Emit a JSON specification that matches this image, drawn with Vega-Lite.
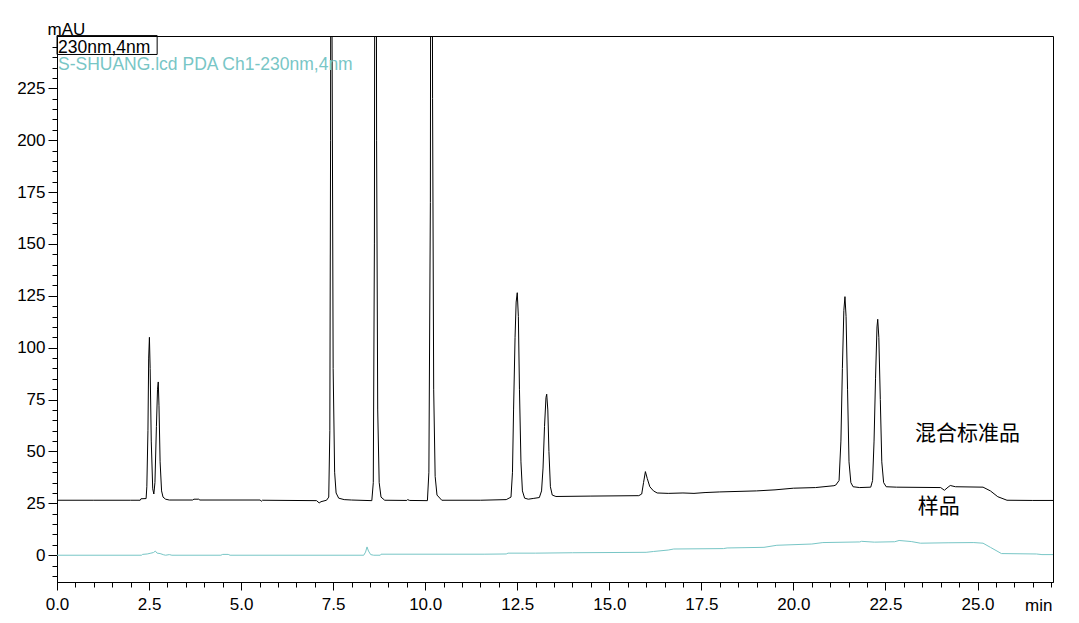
{
  "$schema": "https://vega.github.io/schema/vega-lite/v6.json",
  "width": 996,
  "height": 546,
  "autosize": {"type": "none"},
  "padding": {"left": 57, "top": 36, "right": 26, "bottom": 41},
  "background": "white",
  "config": {
    "view": {"stroke": "black", "strokeWidth": 1},
    "font": "Liberation Sans",
    "axis": {"domainColor": "black", "tickColor": "black", "labelColor": "black", "titleColor": "black", "grid": false, "labelFont": "Liberation Sans", "titleFont": "Liberation Sans"}
  },
  "datasets": {
    "std": [
      {"t": 0, "v": 26.5}, {"t": 1.0, "v": 26.5}, {"t": 2.0, "v": 26.5}, {"t": 2.26, "v": 26.5},
      {"t": 2.28, "v": 27.2}, {"t": 2.42, "v": 27.3}, {"t": 2.44, "v": 33}, {"t": 2.47, "v": 60},
      {"t": 2.49, "v": 95}, {"t": 2.51, "v": 105}, {"t": 2.53, "v": 90}, {"t": 2.56, "v": 55},
      {"t": 2.60, "v": 32}, {"t": 2.63, "v": 29.5}, {"t": 2.66, "v": 35}, {"t": 2.70, "v": 62},
      {"t": 2.73, "v": 80}, {"t": 2.75, "v": 83.5}, {"t": 2.77, "v": 72}, {"t": 2.80, "v": 45},
      {"t": 2.84, "v": 31}, {"t": 2.88, "v": 28}, {"t": 2.95, "v": 27}, {"t": 3.05, "v": 26.6},
      {"t": 3.68, "v": 26.6}, {"t": 3.72, "v": 27.0}, {"t": 3.85, "v": 27.0}, {"t": 3.88, "v": 26.6},
      {"t": 5.52, "v": 26.6}, {"t": 5.55, "v": 26.0}, {"t": 5.58, "v": 26.5}, {"t": 7.05, "v": 26.3},
      {"t": 7.12, "v": 25.2}, {"t": 7.17, "v": 25.8}, {"t": 7.32, "v": 26.5}, {"t": 7.38, "v": 28},
      {"t": 7.41, "v": 60}, {"t": 7.43, "v": 200}, {"t": 7.45, "v": 600}, {"t": 7.47, "v": 250},
      {"t": 7.50, "v": 90}, {"t": 7.54, "v": 40}, {"t": 7.58, "v": 30}, {"t": 7.65, "v": 27.5},
      {"t": 7.8, "v": 26.8}, {"t": 8.0, "v": 26.6}, {"t": 8.55, "v": 26.3}, {"t": 8.59, "v": 35},
      {"t": 8.62, "v": 150}, {"t": 8.65, "v": 600}, {"t": 8.68, "v": 200}, {"t": 8.71, "v": 70},
      {"t": 8.75, "v": 35}, {"t": 8.80, "v": 28}, {"t": 8.9, "v": 26.5}, {"t": 9.5, "v": 26.4},
      {"t": 9.52, "v": 26.8}, {"t": 9.58, "v": 26.4}, {"t": 10.06, "v": 26.3}, {"t": 10.10, "v": 40},
      {"t": 10.14, "v": 170}, {"t": 10.17, "v": 600}, {"t": 10.20, "v": 220}, {"t": 10.23, "v": 80},
      {"t": 10.27, "v": 38}, {"t": 10.32, "v": 29}, {"t": 10.45, "v": 26.5}, {"t": 11.5, "v": 26.5},
      {"t": 12.2, "v": 26.8}, {"t": 12.33, "v": 28}, {"t": 12.37, "v": 40}, {"t": 12.40, "v": 70},
      {"t": 12.44, "v": 105}, {"t": 12.47, "v": 122}, {"t": 12.50, "v": 126.5}, {"t": 12.53, "v": 115},
      {"t": 12.56, "v": 80}, {"t": 12.60, "v": 45}, {"t": 12.64, "v": 31}, {"t": 12.70, "v": 27.5},
      {"t": 12.80, "v": 27}, {"t": 12.95, "v": 27.4}, {"t": 13.10, "v": 27.8}, {"t": 13.16, "v": 31},
      {"t": 13.20, "v": 42}, {"t": 13.24, "v": 62}, {"t": 13.28, "v": 76}, {"t": 13.30, "v": 77.6},
      {"t": 13.33, "v": 70}, {"t": 13.36, "v": 50}, {"t": 13.40, "v": 33}, {"t": 13.45, "v": 29},
      {"t": 13.55, "v": 28.3}, {"t": 14.5, "v": 28.5}, {"t": 15.80, "v": 28.7}, {"t": 15.88, "v": 29.5},
      {"t": 15.93, "v": 35}, {"t": 15.98, "v": 40.3}, {"t": 16.03, "v": 37}, {"t": 16.10, "v": 33},
      {"t": 16.20, "v": 31}, {"t": 16.30, "v": 30}, {"t": 16.6, "v": 29.8}, {"t": 17.0, "v": 30},
      {"t": 17.3, "v": 29.8}, {"t": 17.6, "v": 30.2}, {"t": 18.0, "v": 30.5}, {"t": 19.0, "v": 31},
      {"t": 19.5, "v": 31.5}, {"t": 20.0, "v": 32.3}, {"t": 20.6, "v": 32.6}, {"t": 21.1, "v": 33.5},
      {"t": 21.15, "v": 33.8}, {"t": 21.24, "v": 36}, {"t": 21.29, "v": 55}, {"t": 21.33, "v": 90},
      {"t": 21.37, "v": 118}, {"t": 21.40, "v": 124.6}, {"t": 21.43, "v": 115}, {"t": 21.47, "v": 80},
      {"t": 21.51, "v": 45}, {"t": 21.56, "v": 35}, {"t": 21.62, "v": 33}, {"t": 21.8, "v": 32.6},
      {"t": 22.10, "v": 32.8}, {"t": 22.15, "v": 36}, {"t": 22.19, "v": 55}, {"t": 22.23, "v": 85},
      {"t": 22.27, "v": 110}, {"t": 22.29, "v": 113.7}, {"t": 22.32, "v": 105}, {"t": 22.36, "v": 75},
      {"t": 22.40, "v": 45}, {"t": 22.45, "v": 35}, {"t": 22.52, "v": 33}, {"t": 22.8, "v": 32.8},
      {"t": 24.0, "v": 32.6}, {"t": 24.1, "v": 31.3}, {"t": 24.2, "v": 32.8}, {"t": 24.26, "v": 33.6},
      {"t": 24.4, "v": 33}, {"t": 25.15, "v": 32.8}, {"t": 25.35, "v": 31}, {"t": 25.55, "v": 28.2},
      {"t": 25.8, "v": 26.5}, {"t": 26.5, "v": 26.4}, {"t": 27.05, "v": 26.4}
    ],
    "sample": [
      {"t": 0, "v": 0}, {"t": 2.3, "v": 0}, {"t": 2.32, "v": 0.4}, {"t": 2.45, "v": 0.6},
      {"t": 2.55, "v": 1.0}, {"t": 2.62, "v": 1.3}, {"t": 2.67, "v": 2.0}, {"t": 2.72, "v": 1.0},
      {"t": 2.80, "v": 0.8}, {"t": 2.90, "v": 0.2}, {"t": 2.95, "v": 0}, {"t": 3.05, "v": 0.3},
      {"t": 3.12, "v": 0}, {"t": 4.45, "v": 0}, {"t": 4.5, "v": 0.4}, {"t": 4.65, "v": 0.4},
      {"t": 4.7, "v": 0}, {"t": 8.33, "v": 0}, {"t": 8.38, "v": 1.5}, {"t": 8.42, "v": 4.0},
      {"t": 8.46, "v": 2.0}, {"t": 8.52, "v": 0.3}, {"t": 8.6, "v": 0}, {"t": 8.78, "v": 0},
      {"t": 8.8, "v": 0.5}, {"t": 11.6, "v": 0.5}, {"t": 12.2, "v": 0.6}, {"t": 12.25, "v": 1.0},
      {"t": 13.0, "v": 1.0}, {"t": 14.0, "v": 1.2}, {"t": 16.0, "v": 1.4}, {"t": 16.2, "v": 1.8},
      {"t": 16.6, "v": 2.5}, {"t": 16.75, "v": 3.0}, {"t": 18.1, "v": 3.2}, {"t": 18.2, "v": 3.5},
      {"t": 19.2, "v": 3.8}, {"t": 19.55, "v": 4.8}, {"t": 20.5, "v": 5.4}, {"t": 20.8, "v": 6.1},
      {"t": 21.8, "v": 6.4}, {"t": 21.85, "v": 6.7}, {"t": 22.2, "v": 6.3}, {"t": 22.75, "v": 6.5},
      {"t": 22.87, "v": 7.1}, {"t": 23.2, "v": 6.6}, {"t": 23.45, "v": 5.8}, {"t": 24.2, "v": 6.0},
      {"t": 24.9, "v": 6.1}, {"t": 25.15, "v": 5.8}, {"t": 25.35, "v": 3.8}, {"t": 25.65, "v": 0.8},
      {"t": 26.6, "v": 0.6}, {"t": 26.75, "v": 0.3}, {"t": 27.05, "v": 0.3}
    ]
  },
  "layer": [
    {
      "data": {"name": "std"},
      "mark": {"type": "line", "color": "black", "strokeWidth": 1, "clip": true},
      "encoding": {
        "x": {"field": "t", "type": "quantitative",
          "scale": {"domain": [0, 27.05], "nice": false, "zero": false},
          "axis": {"orient": "bottom", "values": [0, 2.5, 5, 7.5, 10, 12.5, 15, 17.5, 20, 22.5, 25], "format": ".1f",
            "tickSize": 8, "labelFontSize": 17, "labelPadding": 6, "labelFlush": false, "labelOverlap": false,
            "title": "min", "titleFontSize": 17, "titleFontWeight": "normal", "titleAlign": "right",
            "titleBaseline": "alphabetic", "titleX": 995, "titleY": 28.5}},
        "y": {"field": "v", "type": "quantitative",
          "scale": {"domain": [-12.9, 250.2], "nice": false, "zero": false},
          "axis": {"orient": "left", "values": [0, 25, 50, 75, 100, 125, 150, 175, 200, 225], "format": "d",
            "tickSize": 9, "labelFontSize": 17, "labelPadding": 3, "labelFlush": false, "labelOverlap": false,
            "title": "mAU", "titleFontSize": 17, "titleFontWeight": "normal", "titleAngle": 0,
            "titleAlign": "center", "titleBaseline": "alphabetic", "titleX": 9, "titleY": -2}}
      }
    },
    {
      "data": {"name": "sample"},
      "mark": {"type": "line", "color": "#78c6c6", "strokeWidth": 1, "clip": true},
      "encoding": {
        "x": {"field": "t", "type": "quantitative",
          "scale": {"domain": [0, 27.05], "nice": false, "zero": false},
          "axis": {"orient": "bottom", "values": [0, 0.5, 1, 1.5, 2, 2.5, 3, 3.5, 4, 4.5, 5, 5.5, 6, 6.5, 7, 7.5, 8, 8.5, 9, 9.5, 10, 10.5, 11, 11.5, 12, 12.5, 13, 13.5, 14, 14.5, 15, 15.5, 16, 16.5, 17, 17.5, 18, 18.5, 19, 19.5, 20, 20.5, 21, 21.5, 22, 22.5, 23, 23.5, 24, 24.5, 25, 25.5, 26, 26.5, 27],
            "labels": false, "domain": false, "tickSize": 5, "title": null}},
        "y": {"field": "v", "type": "quantitative",
          "scale": {"domain": [-12.9, 250.2], "nice": false, "zero": false},
          "axis": {"orient": "left", "values": [-10, -5, 0, 5, 10, 15, 20, 25, 30, 35, 40, 45, 50, 55, 60, 65, 70, 75, 80, 85, 90, 95, 100, 105, 110, 115, 120, 125, 130, 135, 140, 145, 150, 155, 160, 165, 170, 175, 180, 185, 190, 195, 200, 205, 210, 215, 220, 225, 230, 235, 240, 245],
            "labels": false, "domain": false, "tickSize": 5, "title": null}}
      }
    },
    {
      "data": {"values": [{"t": 0, "t2": 2.72, "v": 241.3, "v2": 250.4}]},
      "mark": {"type": "rect", "fill": null, "fillOpacity": 0, "stroke": "black", "strokeWidth": 1},
      "encoding": {
        "x": {"field": "t", "type": "quantitative", "scale": {"domain": [0, 27.05], "nice": false, "zero": false}, "axis": null},
        "x2": {"field": "t2"},
        "y": {"field": "v", "type": "quantitative", "scale": {"domain": [-12.9, 250.2], "nice": false, "zero": false}, "axis": null},
        "y2": {"field": "v2"}
      }
    },
    {
      "data": {"values": [{"t": 0, "v": 242.2, "label": "230nm,4nm"}]},
      "mark": {"type": "text", "align": "left", "baseline": "alphabetic", "fontSize": 17.5, "font": "Liberation Sans", "color": "black", "dx": 1},
      "encoding": {
        "x": {"field": "t", "type": "quantitative", "scale": {"domain": [0, 27.05], "nice": false, "zero": false}, "axis": null},
        "y": {"field": "v", "type": "quantitative", "scale": {"domain": [-12.9, 250.2], "nice": false, "zero": false}, "axis": null},
        "text": {"field": "label"}
      }
    },
    {
      "data": {"values": [{"t": 0, "v": 233.6, "label": "S-SHUANG.lcd PDA Ch1-230nm,4nm"}]},
      "mark": {"type": "text", "align": "left", "baseline": "alphabetic", "fontSize": 17.5, "font": "Liberation Sans", "color": "#78c6c6", "dx": 1},
      "encoding": {
        "x": {"field": "t", "type": "quantitative", "scale": {"domain": [0, 27.05], "nice": false, "zero": false}, "axis": null},
        "y": {"field": "v", "type": "quantitative", "scale": {"domain": [-12.9, 250.2], "nice": false, "zero": false}, "axis": null},
        "text": {"field": "label"}
      }
    },
    {
      "data": {"values": [{"t": 23.3, "v": 55.5, "label": "混合标准品"}, {"t": 23.38, "v": 20.4, "label": "样品"}]},
      "mark": {"type": "text", "align": "left", "baseline": "alphabetic", "fontSize": 21, "font": "Noto Sans CJK SC", "color": "black"},
      "encoding": {
        "x": {"field": "t", "type": "quantitative", "scale": {"domain": [0, 27.05], "nice": false, "zero": false}, "axis": null},
        "y": {"field": "v", "type": "quantitative", "scale": {"domain": [-12.9, 250.2], "nice": false, "zero": false}, "axis": null},
        "text": {"field": "label"}
      }
    }
  ],
  "resolve": {"axis": {"x": "independent", "y": "independent"}}
}
